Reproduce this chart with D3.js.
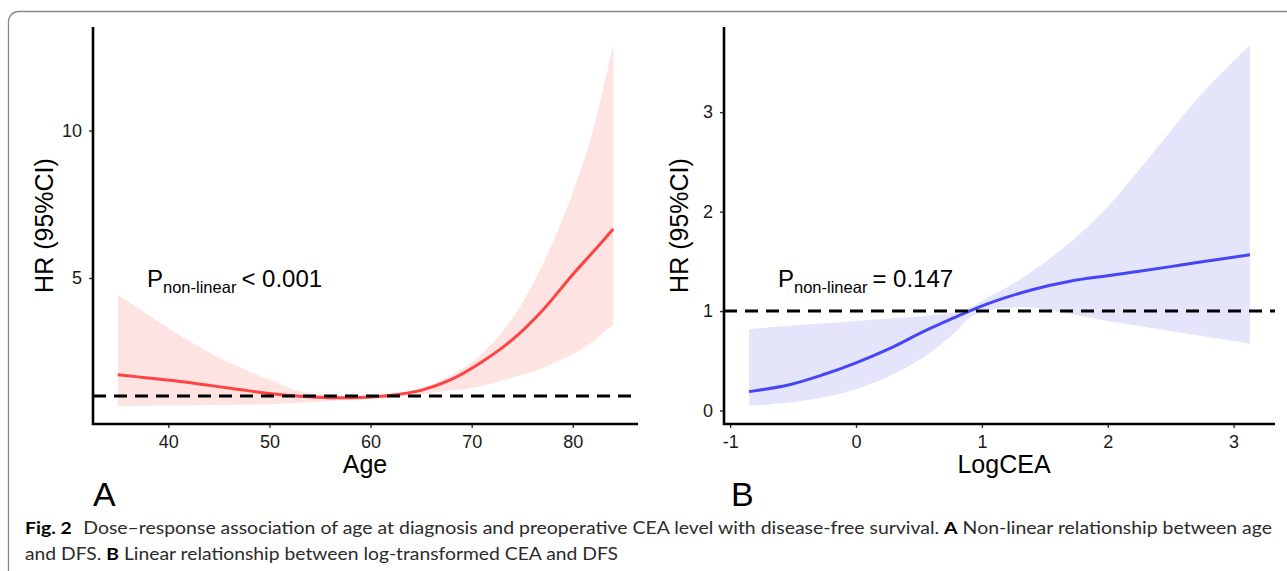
<!DOCTYPE html>
<html>
<head>
<meta charset="utf-8">
<script src="https://cdn.jsdelivr.net/npm/d3@7"></script>
<style>
  body { margin: 0; background: #fff; }
  svg { display: block; }
  .tick text { font-family: "Liberation Sans", Arial, sans-serif; font-size: 18px; fill: #1a1a1a; }
  .tick line { stroke: #333; stroke-width: 1.4; }
</style>
</head>
<body>
<script>
// Panel A: restricted cubic spline of age vs HR
const ageX     = [35, 38, 41, 44, 47, 50, 53, 56, 59, 62, 65, 68, 71, 74, 77, 80, 82, 84];
const ageHR    = [1.72, 1.61, 1.50, 1.36, 1.22, 1.08, 0.99, 0.94, 0.95, 1.02, 1.19, 1.56, 2.15, 2.90, 3.90, 5.12, 5.88, 6.66];
const ageUpper = [4.43, 3.75, 3.08, 2.48, 1.98, 1.55, 1.16, 1.02, 0.99, 1.06, 1.27, 1.70, 2.42, 3.62, 5.45, 7.90, 10.0, 12.9];
const ageLower = [0.66, 0.67, 0.68, 0.69, 0.70, 0.72, 0.77, 0.83, 0.88, 0.95, 1.06, 1.18, 1.34, 1.62, 1.95, 2.42, 2.85, 3.42];
const ageTicksX = [40, 50, 60, 70, 80];
const ageTicksY = [5, 10];

// Panel B: log-transformed CEA vs HR
const ceaX     = [-0.85, -0.53, -0.27, 0, 0.27, 0.53, 0.8, 0.9, 1.05, 1.2, 1.4, 1.7, 2.0, 2.25, 2.5, 2.75, 3.13];
const ceaHR    = [0.19, 0.26, 0.357, 0.48, 0.625, 0.79, 0.945, 1.0, 1.075, 1.14, 1.215, 1.30, 1.355, 1.40, 1.447, 1.495, 1.566];
const ceaUpper = [0.82, 0.853, 0.875, 0.90, 0.925, 0.95, 0.99, 1.03, 1.14, 1.24, 1.40, 1.69, 2.05, 2.42, 2.81, 3.19, 3.675];
const ceaLower = [0.046, 0.08, 0.13, 0.215, 0.35, 0.53, 0.80, 0.93, 1.01, 1.035, 1.035, 0.97, 0.90, 0.85, 0.80, 0.75, 0.674];
const ceaTicksX = [-1, 0, 1, 2, 3];
const ceaTicksY = [0, 1, 2, 3];

const width = 1287, height = 571;
const FONT = '"Liberation Sans", Arial, sans-serif';

const svg = d3.select('body').append('svg')
    .attr('width', width)
    .attr('height', height);

// outer frame of the figure (runs off the page at right / bottom)
svg.append('rect')
    .attr('x', 8.5).attr('y', 11.5)
    .attr('width', 1320).attr('height', 620)
    .attr('rx', 10)
    .attr('fill', 'none')
    .attr('stroke', '#8a8a8a')
    .attr('stroke-width', 1.3);

// ggplot style 5% expansion
function expand(ext) {
    const d = (ext[1] - ext[0]) * 0.05;
    return [ext[0] - d, ext[1] + d];
}

const smooth = d3.curveCatmullRom.alpha(0.5);

function drawPanel(p) {
    const x = d3.scaleLinear()
        .domain(expand(d3.extent(p.xs)))
        .range([p.left, p.right]);
    const y = d3.scaleLinear()
        .domain(expand([d3.min(p.lower), d3.max(p.upper)]))
        .range([p.bottom, p.top]);

    const rows = p.xs.map((v, i) => ({ x: v, hr: p.hr[i], lo: p.lower[i], hi: p.upper[i] }));
    const g = svg.append('g');

    // confidence band
    g.append('path')
        .datum(rows)
        .attr('fill', p.fill)
        .attr('d', d3.area()
            .curve(smooth)
            .x(d => x(d.x))
            .y0(d => y(d.lo))
            .y1(d => y(d.hi)));

    // HR curve
    g.append('path')
        .datum(rows)
        .attr('fill', 'none')
        .attr('stroke', p.color)
        .attr('stroke-width', 3)
        .attr('d', d3.line()
            .curve(smooth)
            .x(d => x(d.x))
            .y(d => y(d.hr)));

    // reference line HR = 1
    g.append('line')
        .attr('x1', p.left).attr('x2', p.right)
        .attr('y1', y(1)).attr('y2', y(1))
        .attr('stroke', '#000')
        .attr('stroke-width', 3)
        .attr('stroke-dasharray', '13,8');

    // axes
    g.append('g')
        .attr('transform', `translate(0,${p.bottom})`)
        .call(d3.axisBottom(x).tickValues(p.ticksX).tickSize(4).tickPadding(7)
            .tickFormat(d => d < 0 ? '-' + Math.abs(d) : String(d)))
        .call(a => a.select('.domain').remove());
    g.append('g')
        .attr('transform', `translate(${p.left},0)`)
        .call(d3.axisLeft(y).tickValues(p.ticksY).tickSize(4).tickPadding(7)
            .tickFormat(d => String(d)))
        .call(a => a.select('.domain').remove());

    // axis lines
    g.append('path')
        .attr('d', `M${p.left},${p.top}V${p.bottom}H${p.right}`)
        .attr('fill', 'none')
        .attr('stroke', '#000')
        .attr('stroke-width', 2.6);

    // axis titles
    g.append('text')
        .attr('x', p.xTitleX).attr('y', 473)
        .attr('text-anchor', 'middle')
        .style('font-family', FONT).style('font-size', '25px').style('fill', '#000')
        .text(p.xTitle);
    g.append('text')
        .attr('transform', `translate(${p.yTitleX},${(p.top + p.bottom) / 2}) rotate(-90)`)
        .attr('text-anchor', 'middle')
        .style('font-family', FONT).style('font-size', '25px').style('fill', '#000')
        .text('HR (95%CI)');

    // P value annotation
    const pt = g.append('text')
        .attr('x', p.pX).attr('y', 287)
        .style('font-family', FONT).style('font-size', '24px').style('fill', '#000');
    pt.append('tspan').text('P');
    pt.append('tspan').attr('dy', 6).style('font-size', '16.5px').text('non-linear');
    pt.append('tspan').attr('dy', -6).attr('dx', 5).text(p.pText);

    // panel letter
    g.append('text')
        .attr('x', p.letterX).attr('y', 506)
        .style('font-family', FONT).style('font-size', '34px').style('fill', '#000')
        .text(p.letter);
}

drawPanel({
    xs: ageX, hr: ageHR, lower: ageLower, upper: ageUpper,
    ticksX: ageTicksX, ticksY: ageTicksY,
    left: 93, right: 638, top: 27, bottom: 424,
    color: '#ff4343', fill: '#fee3e3',
    xTitle: 'Age', xTitleX: 365, yTitleX: 53,
    pX: 147, pText: '< 0.001', letter: 'A', letterX: 93
});

drawPanel({
    xs: ceaX, hr: ceaHR, lower: ceaLower, upper: ceaUpper,
    ticksX: ceaTicksX, ticksY: ceaTicksY,
    left: 724, right: 1275, top: 27, bottom: 424,
    color: '#4646f6', fill: '#e4e4fb',
    xTitle: 'LogCEA', xTitleX: 1004, yTitleX: 688,
    pX: 778, pText: '= 0.147', letter: 'B', letterX: 731
});

// figure caption
const CAP = 'Lato, "Open Sans", sans-serif';
const cap1 = svg.append('text')
    .attr('x', 25).attr('y', 534)
    .attr('textLength', 1247).attr('lengthAdjust', 'spacingAndGlyphs')
    .style('font-family', CAP).style('font-size', '17px').style('fill', '#2b2b2b');
cap1.append('tspan').style('font-weight', 'bold').style('fill', '#000').text('Fig. 2');
cap1.append('tspan').attr('dx', 10).text('Dose\u2013response association of age at diagnosis and preoperative CEA level with disease-free survival. ');
cap1.append('tspan').style('font-weight', 'bold').style('fill', '#000').text('A');
cap1.append('tspan').text(' Non-linear relationship between age');

const cap2 = svg.append('text')
    .attr('x', 25).attr('y', 560)
    .attr('textLength', 593).attr('lengthAdjust', 'spacingAndGlyphs')
    .style('font-family', CAP).style('font-size', '17px').style('fill', '#2b2b2b');
cap2.append('tspan').text('and DFS. ');
cap2.append('tspan').style('font-weight', 'bold').style('fill', '#000').text('B');
cap2.append('tspan').text(' Linear relationship between log-transformed CEA and DFS');
</script>
</body>
</html>
